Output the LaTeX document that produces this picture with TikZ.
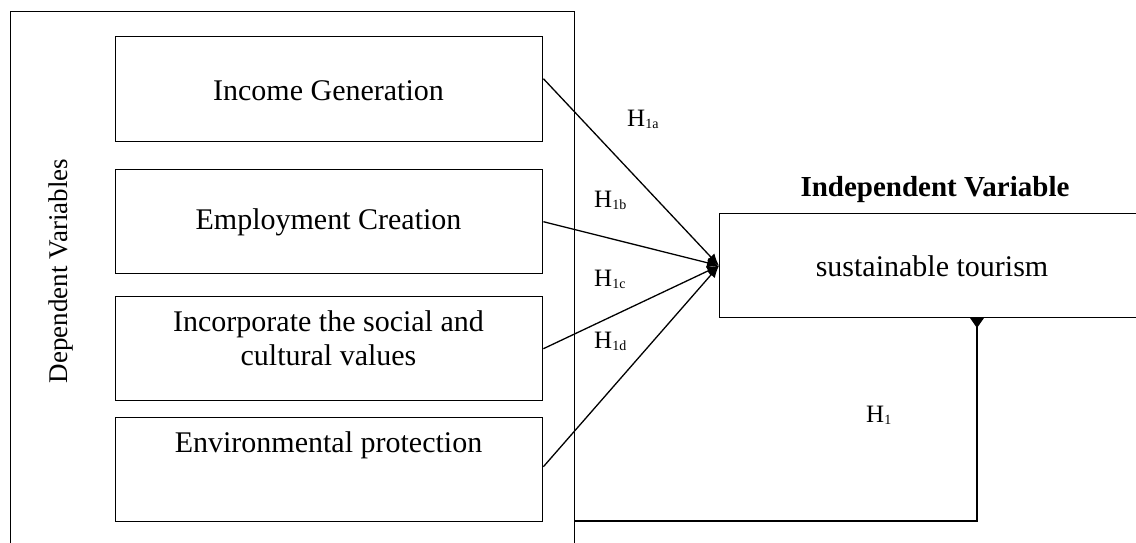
\documentclass[tikz,border=0pt]{standalone}
\usepackage{fontspec}
\setmainfont{Liberation Serif}
\usetikzlibrary{arrows.meta}
\newcommand\hyp[1]{H\raisebox{-2pt}{\fontsize{14}{14}\selectfont #1}}
\begin{document}
\begin{tikzpicture}[x=1pt,y=-1pt,
  box/.style={draw, line width=1.4pt, inner sep=0pt, anchor=north west},
  boxtext/.style={anchor=base, inner sep=0pt, font=\fontsize{30}{35}\selectfont},
  hlabel/.style={anchor=base west, inner sep=0pt, font=\fontsize{25}{25}\selectfont},
  conn/.style={line width=1.3pt, -{Latex[length=12pt,width=10pt]}},
  every node/.style={text=black}
]
\clip (0,0) rectangle (1136,542);
\fill[white] (0,0) rectangle (1136,542);

% outer container
\node[box, minimum width=564pt, minimum height=560pt] (outer) at (10,11) {};

% dependent variable boxes
\node[box, minimum width=427pt, minimum height=105pt] (b1) at (115,36) {};
\node[box, minimum width=427pt, minimum height=104pt] (b2) at (115,169) {};
\node[box, minimum width=427pt, minimum height=104pt] (b3) at (115,296) {};
\node[box, minimum width=427pt, minimum height=104pt] (b4) at (115,417) {};

\node[boxtext] (t1) at (328.5,100) {Income Generation};
\node[boxtext] (t2) at (328.5,229) {Employment Creation};
\node[boxtext] (t3a) at (328.5,331) {Incorporate the social and};
\node[boxtext] (t3b) at (328.5,365) {cultural values};
\node[boxtext] (t4) at (328.5,452) {Environmental protection};

\node[anchor=base, inner sep=0pt, rotate=90, font=\fontsize{27}{27}\selectfont] (dv) at (67,271) {Dependent Variables};

% independent variable
\node[box, minimum width=430pt, minimum height=104pt] (ts) at (719,213) {};
\node[boxtext] (tst) at (932,276) {sustainable tourism};
\node[anchor=base, inner sep=0pt, font=\bfseries\fontsize{29}{29}\selectfont] (iv) at (935,196) {Independent Variable};

% connectors
\coordinate (tip) at (ts.west);
\draw[conn] ([yshift=10.5pt]b1.east) -- (tip);
\draw[conn] (b2.east) -- (tip);
\draw[conn] (b3.east) -- (tip);
\draw[conn] ([yshift=3pt]b4.east) -- (tip);

\coordinate (h1corner) at (977,521);
\coordinate (h1start) at (574,521);
\coordinate (h1tip) at (977,317);
\draw[line width=1.3pt, -{Triangle[reversed,length=11pt,width=15pt]}] (h1start) -- (h1corner) -- (h1tip);

% hypothesis labels
\node[hlabel] (h1a) at (627,126) {\hyp{1a}};
\node[hlabel] (h1b) at (594,207) {\hyp{1b}};
\node[hlabel] (h1c) at (594,286) {\hyp{1c}};
\node[hlabel] (h1d) at (594,348) {\hyp{1d}};
\node[hlabel] (h1) at (866,422) {\hyp{1}};
\end{tikzpicture}
\end{document}
